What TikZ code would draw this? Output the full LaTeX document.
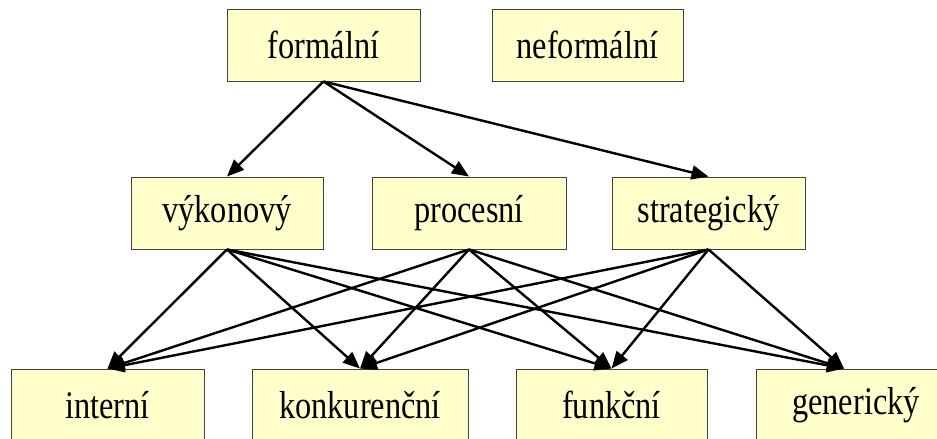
\documentclass[tikz,border=0pt]{standalone}
\usepackage{fontspec}
\setmainfont{Liberation Serif}
\usetikzlibrary{arrows.meta}
\definecolor{boxfill}{HTML}{FFFFCC}
\definecolor{boxline}{HTML}{404040}
\tikzset{
  box/.style={draw=boxline, line width=0.9pt, fill=boxfill, minimum height=72pt, inner sep=0pt, font=\fontsize{39}{42}\selectfont},
  conn/.style={line width=2.4pt, -{Triangle[length=17pt,width=14pt]}}
}
\newcommand{\bx}[1]{\scalebox{0.83}[1]{#1}}
\begin{document}
\begin{tikzpicture}[x=1pt,y=-1pt]
\useasboundingbox (0,0) rectangle (937,439);
\clip (0,0) rectangle (937,439);
\fill[white] (0,0) rectangle (937,439);
\node[box, minimum width=193pt] (form) at (323.5,45) {\bx{formální}};
\node[box, minimum width=191pt] (neform) at (587.5,45) {\bx{neformální}};
\node[box, minimum width=192pt] (vyk) at (227,213) {\bx{výkonový}};
\node[box, minimum width=194pt] (proc) at (469,213) {\bx{procesní}};
\node[box, minimum width=193pt] (strat) at (708.5,213) {\bx{strategický}};
\node[box, minimum width=193pt] (int) at (107.5,405) {\bx{interní}};
\node[box, minimum width=216pt] (konk) at (360,405) {\bx{konkurenční}};
\node[box, minimum width=191pt] (funk) at (611.5,405) {\bx{funkční}};
\node[box, minimum width=200pt] (gen) at (856,405) {\bx{generický}\hspace{10pt}};
\foreach \t in {vyk,proc,strat} \draw[conn] (form.south) -- (\t.north);
\foreach \s in {vyk,proc,strat}
  \foreach \t in {int,konk,funk}
    \draw[conn] (\s.south) -- (\t.north);
\foreach \s in {vyk,proc,strat}
  \draw[conn] (\s.south) -- ([xshift=-12pt]gen.north);
\end{tikzpicture}
\end{document}
